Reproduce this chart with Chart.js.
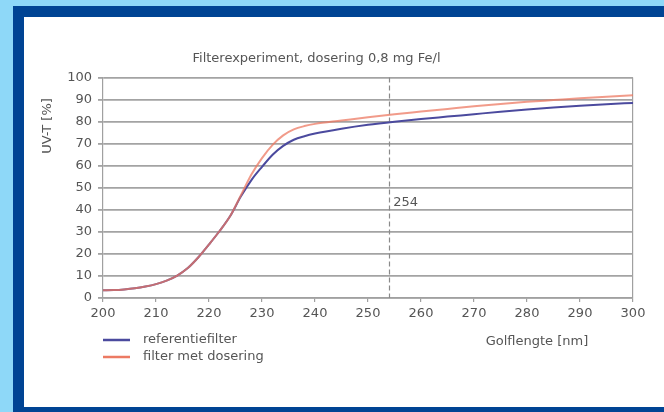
<!DOCTYPE html>
<html>
<head>
<meta charset="utf-8">
<script src="https://cdn.jsdelivr.net/npm/chart.js@4.4.1/dist/chart.umd.min.js"></script>
<style>
  html, body { margin: 0; padding: 0; }
  body { width: 664px; height: 412px; background: #8ed8f8; position: relative; overflow: hidden; }
  #frame { position: absolute; left: 13px; top: 6px; width: 651px; height: 406px; background: #004494; }
  #panel { position: absolute; left: 24px; top: 17px; width: 640px; height: 390px; background: #ffffff; }
  #chart { position: absolute; left: 0; top: 0; }
</style>
</head>
<body>
<div id="frame"></div>
<div id="panel"></div>
<canvas id="chart" width="664" height="412"></canvas>
<script>
var golflengte = [200, 202, 204, 206, 208, 210, 212, 214, 216, 218, 220, 222, 224, 226, 228, 230, 232, 234, 236, 238, 240,
                  245, 250, 255, 260, 265, 270, 275, 280, 285, 290, 295, 300];
var referentiefilter = [3.5, 3.6, 3.9, 4.4, 5.2, 6.3, 7.9, 10.2, 13.6, 18.5, 24.3, 30.4, 37.2, 46.0, 53.5, 59.5, 65.0, 69.0, 71.8, 73.4, 74.6,
                        76.8, 78.6, 80.0, 81.2, 82.3, 83.4, 84.5, 85.5, 86.4, 87.2, 87.9, 88.5];
var filterMetDosering = [3.5, 3.6, 3.9, 4.4, 5.2, 6.3, 7.9, 10.2, 13.6, 18.5, 24.3, 30.4, 37.2, 46.5, 56.0, 63.5, 69.5, 73.8, 76.5, 78.0, 79.0,
                         80.5, 82.0, 83.4, 84.6, 85.8, 87.0, 88.0, 89.0, 89.8, 90.6, 91.3, 92.0];
var seriesNames = ['referentiefilter', 'filter met dosering'];
var seriesColors = ['#4b4a9e', '#ec7a63'];
var markerGolflengte = 254;
var markerLabelY = 43.5;

var fontFamily = '"DejaVu Sans", sans-serif';
var textColor = '#555555';

function toPoints(xs, ys) {
    return xs.map(function(x, i) { return { x: x, y: ys[i] }; });
}

var extras = {
    id: 'extras',
    beforeDatasetsDraw: function(chart) {
        var ctx = chart.ctx;
        var xs = chart.scales.x;
        var px = Math.round(xs.getPixelForValue(markerGolflengte)) + 0.5;
        ctx.save();
        ctx.strokeStyle = '#8a8a8a';
        ctx.lineWidth = 1.2;
        ctx.setLineDash([5, 3]);
        ctx.beginPath();
        ctx.moveTo(px, chart.chartArea.top);
        ctx.lineTo(px, chart.chartArea.bottom);
        ctx.stroke();
        ctx.restore();
    },
    afterDraw: function(chart) {
        var ctx = chart.ctx;
        var xs = chart.scales.x, ys = chart.scales.y;
        ctx.save();
        ctx.font = '13px ' + fontFamily;
        ctx.fillStyle = textColor;
        ctx.textBaseline = 'middle';

        // label at the marker line
        ctx.textAlign = 'left';
        ctx.fillText(String(markerGolflengte), xs.getPixelForValue(markerGolflengte) + 4, ys.getPixelForValue(markerLabelY));

        // legend, bottom left
        seriesNames.forEach(function(name, i) {
            var y = 340 + i * 17;
            ctx.strokeStyle = seriesColors[i];
            ctx.lineWidth = 2.5;
            ctx.beginPath();
            ctx.moveTo(103, y);
            ctx.lineTo(130, y);
            ctx.stroke();
            ctx.fillText(name, 143, y);
        });

        // x axis title
        ctx.textAlign = 'center';
        ctx.fillText('Golflengte [nm]', 537, 342);

        // y axis title
        ctx.translate(48, 126);
        ctx.rotate(-Math.PI / 2);
        ctx.fillText('UV-T [%]', 0, 0);
        ctx.restore();
    }
};

var ctx = document.getElementById('chart').getContext('2d');
var chart = new Chart(ctx, {
    type: 'line',
    data: {
        datasets: [
            {
                label: seriesNames[0],
                data: toPoints(golflengte, referentiefilter),
                borderColor: seriesColors[0],
                borderWidth: 2,
                pointRadius: 0,
                cubicInterpolationMode: 'monotone',
                fill: false,
                order: 1
            },
            {
                label: seriesNames[1],
                data: toPoints(golflengte, filterMetDosering),
                borderColor: 'rgba(236, 122, 99, 0.75)',
                borderWidth: 2,
                pointRadius: 0,
                cubicInterpolationMode: 'monotone',
                fill: false,
                order: 0
            }
        ]
    },
    options: {
        responsive: false,
        animation: false,
        devicePixelRatio: 1,
        layout: { padding: { left: 0, right: 31, top: 0, bottom: 0 } },
        plugins: {
            legend: { display: false },
            tooltip: { enabled: false },
            title: {
                display: true,
                text: 'Filterexperiment, dosering 0,8 mg Fe/l',
                color: textColor,
                font: { family: fontFamily, size: 13, weight: 'normal' },
                padding: { top: 51, bottom: 11 }
            }
        },
        scales: {
            x: {
                type: 'linear',
                min: 200,
                max: 300,
                afterFit: function(scale) { scale.height = 114; },
                ticks: { stepSize: 10, color: textColor, padding: 4, font: { family: fontFamily, size: 13 } },
                grid: {
                    drawOnChartArea: true,
                    color: function(c) { return c.tick && c.tick.value === 300 ? '#a0a0a0' : 'rgba(0,0,0,0)'; },
                    tickColor: '#a0a0a0',
                    tickLength: 4,
                    lineWidth: 1.2
                },
                border: { color: '#a0a0a0', width: 1.5 }
            },
            y: {
                min: 0,
                max: 100,
                afterFit: function(scale) { scale.width = 103; },
                ticks: { stepSize: 10, color: textColor, padding: 6, font: { family: fontFamily, size: 13 } },
                grid: { color: '#a3a3a3', lineWidth: 1.8, tickColor: '#a3a3a3', tickLength: 5 },
                border: { color: '#a0a0a0', width: 1.2 }
            }
        }
    },
    plugins: [extras]
});
</script>
</body>
</html>
